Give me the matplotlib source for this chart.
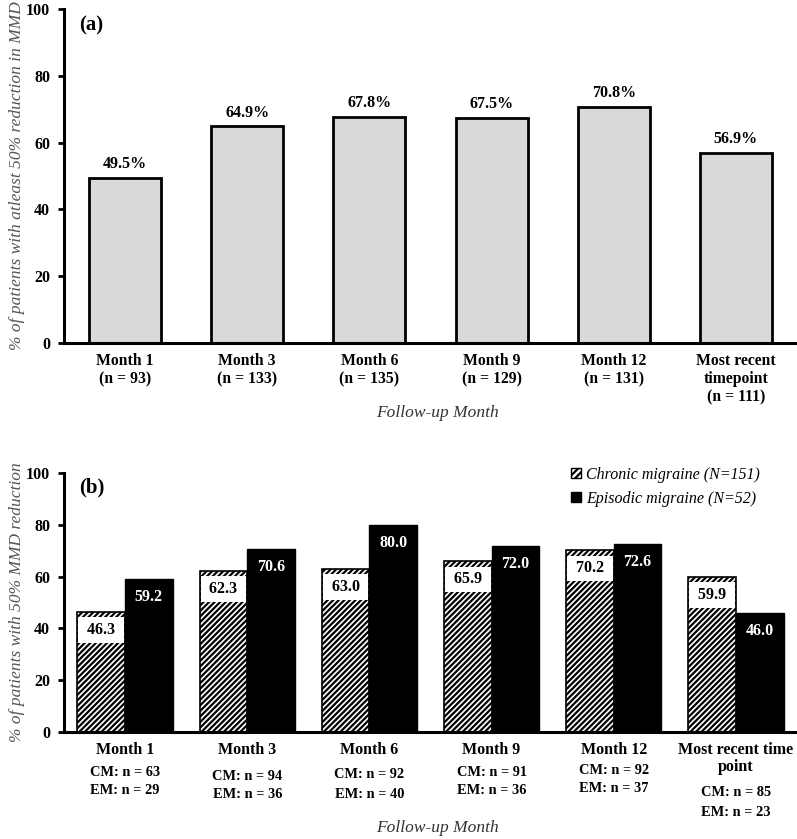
import numpy as np
import matplotlib
matplotlib.use("Agg")
import matplotlib.pyplot as plt
from matplotlib.patches import Patch
from matplotlib.transforms import blended_transform_factory

plt.rcParams['font.family'] = ['Liberation Serif', 'DejaVu Serif']
plt.rcParams['hatch.linewidth'] = 1.6

# ---- data ----
cats_a = ["Month 1\n(n = 93)", "Month 3\n(n = 133)", "Month 6\n(n = 135)",
          "Month 9\n(n = 129)", "Month 12\n(n = 131)", "Most recent\ntimepoint\n(n = 111)"]
vals_a = [49.5, 64.9, 67.8, 67.5, 70.8, 56.9]

cats_b = ["Month 1", "Month 3", "Month 6", "Month 9", "Month 12", "Most recent time\npoint"]
cm_n = [63, 94, 92, 91, 92, 85]
em_n = [29, 36, 40, 36, 37, 23]
cm_vals = [46.3, 62.3, 63.0, 65.9, 70.2, 59.9]
em_vals = [59.2, 70.6, 80.0, 72.0, 72.6, 46.0]
yticks = [0, 20, 40, 60, 80, 100]

# layout: pixel rows of the CM / EM count lines under each group
cm_row_px = [772, 776, 774, 772, 770, 793]
em_row_px = [791, 795, 794, 791, 789, 812]

fig = plt.figure(figsize=(7.97, 8.39), dpi=100)
W, H = 797, 839

def ax_at(l, t, r, b):
    return fig.add_axes([l / W, 1 - b / H, (r - l) / W, (b - t) / H])

def style(ax):
    for s in ['top', 'right']:
        ax.spines[s].set_visible(False)
    ax.spines['left'].set_linewidth(2.2)
    ax.spines['bottom'].set_linewidth(2.2)
    ax.set_ylim(0, 100)
    ax.set_yticks(yticks)
    ax.tick_params(axis='y', length=4, width=2, pad=6, labelsize=11.5)
    ax.tick_params(axis='x', length=0, pad=7, labelsize=11.3)
    for lab in ax.get_yticklabels():
        lab.set_fontweight('bold')
    ax.set_xlim(-0.5, 5.5)

# ---- panel a ----
axa = ax_at(64, 9, 797, 343)
x = np.arange(len(vals_a))
axa.bar(x, vals_a, width=0.59, color='#d9d9d9', edgecolor='black', linewidth=2)
style(axa)
axa.set_xticks(x)
axa.set_xticklabels(cats_a, fontweight='bold', linespacing=1.2)
for xi, v in zip(x, vals_a):
    axa.annotate(f"{v:.1f}%", (xi, v), xytext=(0, 4), textcoords='offset points',
                 ha='center', va='bottom', fontsize=11.5, fontweight='bold')
axa.text(0.02, 0.952, "(a)", transform=axa.transAxes, fontsize=15, fontweight='bold',
         ha='left', va='center')
axa.set_ylabel("% of patients with atleast 50% reduction in MMD", fontsize=12.5,
               style='italic', color='#555555', labelpad=1)
fig.text(437 / W, 1 - 413 / H, "Follow-up Month", ha='center', va='center',
         fontsize=12.5, style='italic', color='#333333')

# ---- panel b ----
axb = ax_at(64, 473, 797, 732)
style(axb)
bw = 0.39
axb.bar(x - bw / 2, cm_vals, width=bw, color='white', edgecolor='black',
        hatch='//////', linewidth=1.2)
axb.bar(x + bw / 2, em_vals, width=bw, color='black', edgecolor='black', linewidth=1)
for xi, v in zip(x, cm_vals):
    axb.text(xi - bw / 2, v - 7, f" {v:.1f} ", ha='center', va='center', fontsize=11.5,
             fontweight='bold', color='black',
             bbox=dict(boxstyle='square,pad=0.3', facecolor='white', edgecolor='none'))
for xi, v in zip(x, em_vals):
    axb.text(xi + bw / 2, v - 7, f"{v:.1f}", ha='center', va='center', fontsize=11.5,
             fontweight='bold', color='white')
axb.set_xticks(x)
axb.set_xticklabels(cats_b, fontweight='bold', fontsize=11.5, linespacing=1.1)
tr = blended_transform_factory(axb.transData, axb.transAxes)
for i, (c, e) in enumerate(zip(cm_n, em_n)):
    axb.text(i, (732 - cm_row_px[i]) / 259, f"CM: n = {c}", transform=tr, ha='center',
             va='center', fontsize=10.4, fontweight='bold')
    axb.text(i, (732 - em_row_px[i]) / 259, f"EM: n = {e}", transform=tr, ha='center',
             va='center', fontsize=10.4, fontweight='bold')
axb.text(0.02, 0.946, "(b)", transform=axb.transAxes, fontsize=15, fontweight='bold',
         ha='left', va='center')
axb.set_ylabel("% of patients with 50% MMD reduction", fontsize=12.5,
               style='italic', color='#555555', labelpad=1)
fig.text(437 / W, 1 - 828 / H, "Follow-up Month", ha='center', va='center',
         fontsize=12.5, style='italic', color='#333333')

handles = [Patch(facecolor='white', edgecolor='black', hatch='/////', linewidth=1),
           Patch(facecolor='black', edgecolor='black')]
axb.legend(handles, ["Chronic migraine (N=151)", "Episodic migraine (N=52)"],
           loc='upper left', bbox_to_anchor=((571 - 64) / 733, (732 - 467) / 259),
           frameon=False, borderpad=0, borderaxespad=0,
           prop=dict(style='italic', size=11.5), handlelength=0.6, handleheight=0.6,
           handletextpad=0.35, labelspacing=0.5)

fig.savefig("out.png", dpi=100)
